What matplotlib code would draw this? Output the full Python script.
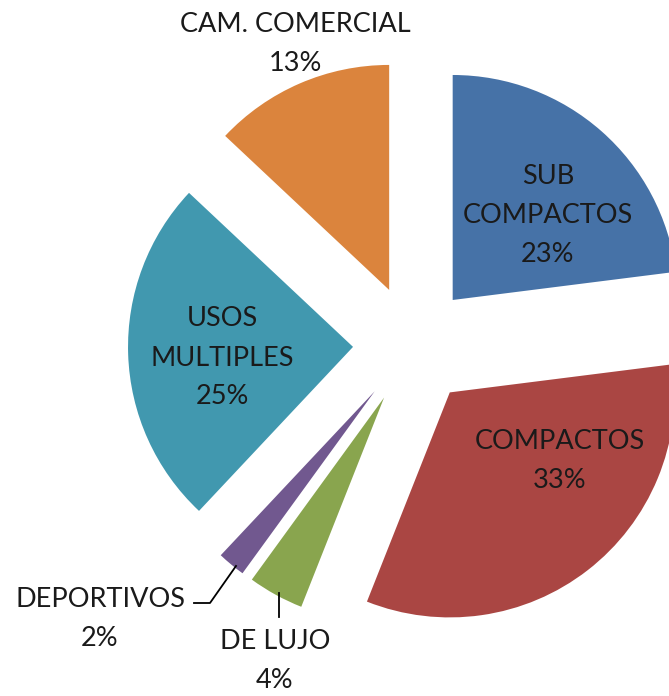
import matplotlib.pyplot as plt
from matplotlib.lines import Line2D

plt.rcParams['font.family'] = ['Lato', 'DejaVu Sans']

categories = ["SUB\nCOMPACTOS", "COMPACTOS", "DE LUJO", "DEPORTIVOS",
              "USOS\nMULTIPLES", "CAM. COMERCIAL"]
shares = [23, 33, 4, 2, 25, 13]
colors = ["#4672A7", "#AA4643", "#89A54E", "#71588F", "#4198AF", "#DB843D"]

W, H = 669, 696
cx, cy, R = 413, 345, 225  # pie centre and radius in pixels

fig = plt.figure(figsize=(W / 100, H / 100), dpi=100)
ax = fig.add_axes([0, 0, 1, 1])
ax.pie(shares, colors=colors, startangle=90, counterclock=False,
       explode=[60 / R] * len(shares), radius=1,
       wedgeprops=dict(linewidth=0))
ax.set_xlim((0 - cx) / R, (W - cx) / R)
ax.set_ylim((cy - H) / R, cy / R)
ax.set_aspect("auto")
ax.axis("off")

# label positions in pixels (x centre, y centre of block)
label_pos = [(548, 216), (560, 461), (275, 661), (100, 619),
             (222, 358), (295, 44)]
for name, val, (x, y) in zip(categories, shares, label_pos):
    fig.text(x / W, 1 - y / H, f"{name}\n{val}%", ha="center", va="center",
             fontsize=19.5, color="#1a1a1a", linespacing=1.7)

# leader lines
fig.add_artist(Line2D([194 / W, 210 / W, 236 / W],
                      [1 - 603 / H, 1 - 603 / H, 1 - 566 / H],
                      color="black", lw=1.3, transform=fig.transFigure))
fig.add_artist(Line2D([279 / W, 279 / W], [1 - 593 / H, 1 - 617 / H],
                      color="black", lw=1.3, transform=fig.transFigure))

fig.savefig("out.png", dpi=100)
